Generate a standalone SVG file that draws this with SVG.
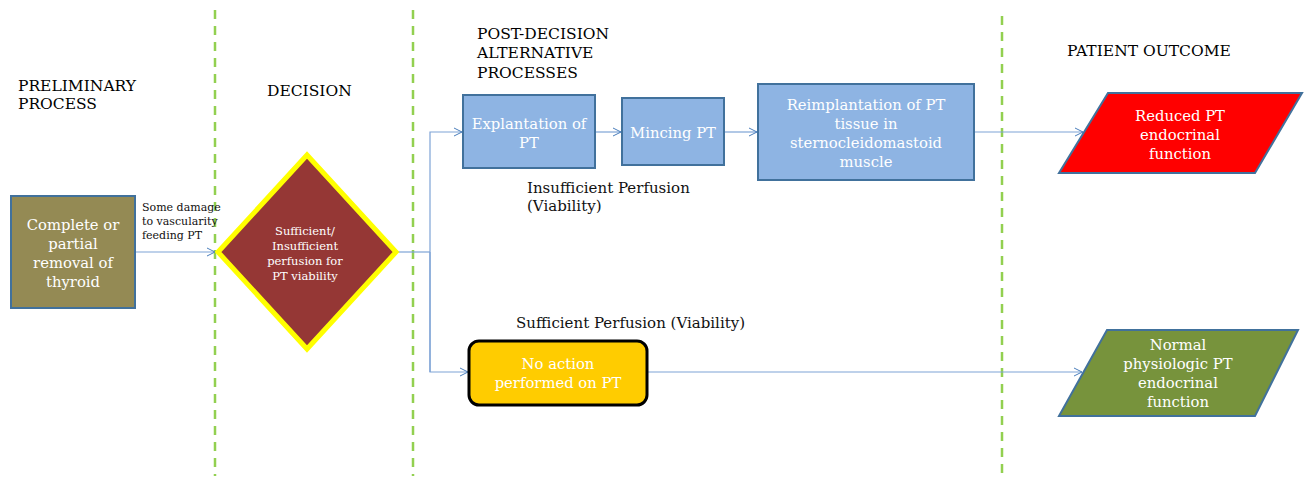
<svg xmlns="http://www.w3.org/2000/svg" width="1304" height="479" viewBox="0 0 1304 479" font-family="'DejaVu Serif', 'Liberation Serif', serif">
<defs>
<marker id="arr" markerWidth="10" markerHeight="10" refX="9" refY="5" orient="auto" markerUnits="userSpaceOnUse">
<path d="M1,1 L9,5 L1,9" fill="none" stroke="#4a7ebb" stroke-width="1"/>
</marker>
<style>
text{font-family:'DejaVu Serif','Liberation Serif',serif}
.hdr{font-size:15.5px;fill:#000}
.lbl{font-size:15px;fill:#111}
.sm{font-size:11px;fill:#111}
.wt{font-size:14.8px;fill:#fff;text-anchor:middle}
.ws{font-size:11.5px;fill:#fff;text-anchor:middle}
.sep{stroke:#92d050;stroke-width:2.5;stroke-dasharray:9,7;fill:none}
.con{stroke:#7ea3d6;stroke-width:1.2;fill:none}
.box{stroke:#41719c;stroke-width:2}
</style>
</defs>
<rect width="1304" height="479" fill="#fff"/>
<g id="separators">
<line class="sep" x1="215" y1="10" x2="215" y2="476"/>
<line class="sep" x1="413" y1="10" x2="413" y2="476"/>
<line class="sep" x1="1002" y1="16" x2="1002" y2="476"/>
</g>
<g id="headers">
<text class="hdr" x="18" y="91">PRELIMINARY</text>
<text class="hdr" x="18" y="109">PROCESS</text>
<text class="hdr" x="267" y="96">DECISION</text>
<text class="hdr" x="477" y="39">POST-DECISION</text>
<text class="hdr" x="477" y="58">ALTERNATIVE</text>
<text class="hdr" x="477" y="78">PROCESSES</text>
<text class="hdr" x="1067" y="56">PATIENT OUTCOME</text>
</g>
<g id="connectors">
<line class="con" x1="136" y1="252" x2="215" y2="252" marker-end="url(#arr)"/>
<polyline class="con" points="398,252 430,252"/>
<polyline class="con" points="430,372 430,132 462,132" marker-end="url(#arr)"/>
<polyline class="con" points="430,252 430,372 468,372" marker-end="url(#arr)"/>
<line class="con" x1="596" y1="132" x2="621" y2="132" marker-end="url(#arr)"/>
<line class="con" x1="725" y1="132" x2="757" y2="132" marker-end="url(#arr)"/>
<line class="con" x1="975" y1="132" x2="1083" y2="132" marker-end="url(#arr)"/>
<line class="con" x1="648" y1="372" x2="1082" y2="372" marker-end="url(#arr)"/>
<text class="sm" x="142" y="211">Some damage</text>
<text class="sm" x="142" y="225">to vascularity</text>
<text class="sm" x="142" y="239">feeding PT</text>
<text class="lbl" x="527" y="193">Insufficient Perfusion</text>
<text class="lbl" x="527" y="211">(Viability)</text>
<text class="lbl" x="516" y="328">Sufficient Perfusion (Viability)</text>
</g>
<g id="removal">
<rect class="box" x="11" y="196" width="124" height="112" fill="#948a54"/>
<text class="wt" x="73" y="230">Complete or</text>
<text class="wt" x="73" y="249">partial</text>
<text class="wt" x="73" y="268">removal of</text>
<text class="wt" x="73" y="287">thyroid</text>
</g>
<g id="decision">
<polygon points="307,155 396,252 307,349 218,252" fill="#953735" stroke="#ffff00" stroke-width="5" stroke-linejoin="miter"/>
<text class="ws" x="305" y="235">Sufficient/</text>
<text class="ws" x="305" y="250">Insufficient</text>
<text class="ws" x="305" y="265">perfusion for</text>
<text class="ws" x="305" y="280">PT viability</text>
</g>
<g id="explantation">
<rect class="box" x="463" y="95" width="132" height="73" fill="#8eb4e3"/>
<text class="wt" x="529" y="129">Explantation of</text>
<text class="wt" x="529" y="148">PT</text>
</g>
<g id="mincing">
<rect class="box" x="622" y="98" width="102" height="67" fill="#8eb4e3"/>
<text class="wt" x="673" y="138">Mincing PT</text>
</g>
<g id="reimplantation">
<rect class="box" x="758" y="84" width="216" height="96" fill="#8eb4e3"/>
<text class="wt" x="866" y="110">Reimplantation of PT</text>
<text class="wt" x="866" y="129">tissue in</text>
<text class="wt" x="866" y="148">sternocleidomastoid</text>
<text class="wt" x="866" y="167">muscle</text>
</g>
<g id="noaction">
<rect x="469" y="341" width="178" height="64" rx="10" fill="#ffcc00" stroke="#000" stroke-width="3"/>
<text class="wt" x="558" y="369">No action</text>
<text class="wt" x="558" y="388">performed on PT</text>
</g>
<g id="reduced">
<polygon class="box" points="1108,93 1302,93 1255,173 1059,173" fill="#ff0000"/>
<text class="wt" x="1180" y="121">Reduced PT</text>
<text class="wt" x="1180" y="140">endocrinal</text>
<text class="wt" x="1180" y="159">function</text>
</g>
<g id="normal">
<polygon class="box" points="1107,330 1298,330 1255,416 1059,416" fill="#77933c"/>
<text class="wt" x="1178" y="350">Normal</text>
<text class="wt" x="1178" y="369">physiologic PT</text>
<text class="wt" x="1178" y="388">endocrinal</text>
<text class="wt" x="1178" y="407">function</text>
</g>
</svg>
